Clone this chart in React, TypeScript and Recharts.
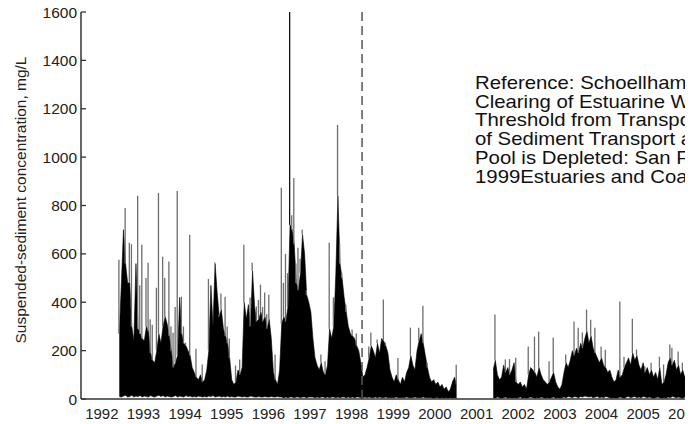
import React from 'react';
import { ComposedChart, Area, Bar, Cell, XAxis, YAxis, ReferenceLine } from 'recharts';

// ---- time grid (decimal years) ----
const STEP = 0.05;

// Segment A: late 1992 to early 2001
const segAStart = 1992.92;
const bodyHighA = [
  270, 480, 700, 560, 480, 480, 300, 240, 560, 290,
  270, 250, 240, 300, 280, 190, 160, 150, 200, 270,
  230, 300, 340, 310, 260, 200, 130, 150, 180, 420,
  270, 230, 220, 200, 180, 130, 110, 90, 80, 100,
  70, 80, 120, 200, 470, 300, 560, 440, 340, 370,
  290, 260, 230, 170, 80, 60, 70, 120, 100, 130,
  400, 330, 390, 300, 530, 380, 320, 330, 360, 320,
  340, 290, 330, 250, 110, 80, 60, 120, 310, 340,
  320, 380, 720, 700, 640, 480, 450, 520, 680, 600,
  430, 400, 360, 250, 170, 140, 120, 150, 110, 100,
  140, 290, 250, 300, 520, 840, 560, 500, 420, 360,
  300, 270, 260, 250, 220, 200, 150, 90, 100, 130,
  170, 220, 200, 170, 230, 190, 250, 240, 220, 190,
  120, 90, 70, 100, 80, 60, 90, 70, 110, 130,
  180, 140, 120, 200, 240, 270, 230, 180, 130, 90,
  70, 80, 60, 70, 50, 60, 40, 50, 30, 40,
  70, 90, 60,
];
const bodyLowA = [
  10, 8, 12, 15, 8, 10, 15, 8, 12, 10,
  14, 8, 12, 10, 8, 14, 10, 8, 12, 15,
  10, 14, 8, 12, 10, 8, 10, 14, 8, 12,
  10, 8, 14, 10, 12, 8, 10, 8, 12, 10,
  8, 10, 8, 12, 10, 14, 8, 10, 12, 8,
  10, 8, 12, 8, 10, 8, 8, 12, 10, 8,
  10, 8, 8, 12, 10, 8, 8, 10, 8, 8,
  10, 8, 8, 10, 8, 8, 10, 8, 8, 5,
  8, 5, 8, 8, 5, 8, 8, 5, 8, 8,
  5, 8, 8, 8, 5, 8, 5, 8, 8, 5,
  8, 5, 8, 8, 5, 8, 5, 8, 8, 5,
  8, 5, 8, 5, 8, 8, 5, 5, 8, 5,
  8, 5, 5, 8, 5, 8, 5, 5, 8, 5,
  5, 5, 5, 8, 5, 5, 5, 5, 8, 5,
  5, 5, 8, 5, 5, 5, 8, 5, 5, 5,
  5, 3, 5, 5, 3, 5, 3, 5, 3, 5,
  3, 5, 3,
];

// Segment B: late 2001 onward
const segBStart = 2001.9;
const bodyHighB = [
  120, 160, 100, 80, 90, 140, 110, 130, 100, 120,
  150, 70, 60, 70, 50, 60, 40, 100, 130, 120,
  110, 90, 130, 100, 80, 70, 60, 70, 90, 110,
  70, 50, 40, 60, 110, 150, 130, 160, 200, 180,
  210, 190, 230, 210, 250, 280, 230, 260, 210, 190,
  170, 150, 170, 140, 130, 110, 120, 90, 70, 80,
  120, 90, 100, 130, 150, 170, 140, 190, 160, 180,
  140, 120, 150, 110, 130, 100, 120, 90, 110, 80,
  130, 60, 70, 100, 150, 170, 140, 160, 120, 140,
  100, 120, 90, 110, 80, 100, 70, 90, 80, 100,
];
const bodyLowB = [
  5, 3, 8, 5, 3, 5, 8, 3, 5, 3,
  5, 3, 5, 8, 3, 5, 3, 5, 8, 5,
  3, 5, 3, 8, 5, 3, 5, 3, 5, 8,
  3, 5, 3, 5, 8, 5, 10, 8, 5, 10,
  8, 5, 10, 8, 12, 10, 8, 10, 5, 8,
  10, 5, 8, 5, 10, 8, 5, 3, 5, 3,
  5, 8, 5, 3, 8, 10, 5, 8, 10, 5,
  8, 5, 10, 8, 5, 8, 5, 3, 5, 8,
  5, 3, 5, 3, 8, 5, 10, 8, 5, 8,
  5, 3, 8, 5, 3, 5, 8, 5, 3, 5,
];

// Individual concentration spikes
const spikeYears = [
  1992.934, 1993.078, 1993.174, 1993.216, 1993.3, 1993.35, 1993.43, 1993.495, 1993.576, 1993.639,
  1993.68, 1993.721, 1993.817, 1993.88, 1993.976, 1994.041, 1994.113, 1994.18, 1994.233, 1994.28,
  1994.337, 1994.419, 1994.47, 1994.522, 1994.626, 1994.78, 1994.9, 1995.045, 1995.1, 1995.203,
  1995.25, 1995.3, 1995.389, 1995.461, 1995.51, 1995.557, 1995.742, 1995.839, 1995.925, 1996.007,
  1996.06, 1996.111, 1996.16, 1996.207, 1996.25, 1996.303, 1996.35, 1996.4, 1996.46, 1996.527,
  1996.688, 1996.826, 1996.87, 1996.905, 1996.96, 1997.025, 1997.07, 1997.122, 1997.17, 1997.242,
  1997.29, 1997.345, 1997.4, 1997.49, 1997.586, 1997.747, 1997.868, 1997.971, 1998.05, 1998.149,
  1998.21, 1998.27, 1998.31, 1998.349, 1998.45, 1998.517, 1998.614, 1998.91, 1998.992, 1999.112,
  1999.247, 1999.336, 1999.624, 1999.913, 2000.137, 2000.233, 2000.315, 2000.996, 2001.935, 2002.2,
  2002.32, 2002.448, 2002.761, 2002.881, 2003.001, 2003.242, 2003.348, 2003.644, 2003.829, 2003.964,
  2004.046, 2004.149, 2004.246, 2004.366, 2004.503, 2004.606, 2004.927, 2005.047, 2005.167, 2005.273,
  2005.353, 2005.528, 2005.69, 2005.889, 2006.01, 2006.13, 2006.212, 2006.332, 2006.453, 2006.611,
];
const spikeValues = [
  576, 790, 646, 640, 420, 840, 470, 638, 500, 563,
  330, 307, 460, 852, 588, 500, 568, 300, 274, 380,
  860, 423, 300, 232, 679, 208, 143, 496, 380, 564,
  440, 349, 436, 423, 300, 250, 138, 163, 638, 390,
  420, 563, 350, 382, 410, 473, 380, 440, 350, 431,
  184, 873, 480, 600, 520, 1600, 760, 914, 560, 625,
  580, 700, 450, 362, 232, 184, 156, 646, 420, 1133,
  640, 522, 380, 390, 270, 287, 271, 217, 275, 246,
  411, 233, 170, 295, 295, 386, 150, 142, 349, 163,
  165, 171, 217, 258, 279, 156, 254, 184, 320, 295,
  275, 370, 328, 295, 217, 204, 403, 175, 165, 332,
  204, 134, 150, 175, 143, 225, 212, 196, 150, 143,
];

const yTicks = [0, 200, 400, 600, 800, 1000, 1200, 1400, 1600];
const yearLabels = [1992, 1993, 1994, 1995, 1996, 1997, 1998, 1999, 2000, 2001, 2002, 2003, 2004, 2005, 2006];
const yearBoundaries = [1993, 1994, 1995, 1996, 1997, 1998, 1999, 2000, 2001, 2002, 2003, 2004, 2005, 2006];
const clearingYear = 1998.75;
const yAxisTitle = 'Suspended-sediment concentration, mg/L';
const annotationLines = [
  'Reference: Schoellhamer, D.H., 2011, Sudden',
  'Clearing of Estuarine Waters upon Crossing the',
  'Threshold from Transport to Supply Regulation',
  'of Sediment Transport as an Erodible Sediment',
  'Pool is Depleted: San Francisco Bay,',
  '1999Estuaries and Coasts',
];

// ---- build table ----
type Row = { year: number; low: number | null; high: number | null; spike: number | null };

function buildSegment(start: number, highs: number[], lows: number[]): Row[] {
  return highs.map((h, i) => ({ year: +(start + i * STEP).toFixed(3), low: lows[i], high: h, spike: null }));
}
const segA = buildSegment(segAStart, bodyHighA, bodyLowA);
const segB = buildSegment(segBStart, bodyHighB, bodyLowB);

spikeYears.forEach((yr, k) => {
  const inA = yr <= segAStart + (segA.length - 0.5) * STEP;
  const seg = inA ? segA : segB;
  const start = inA ? segAStart : segBStart;
  const idx = Math.max(0, Math.min(seg.length - 1, Math.round((yr - start) / STEP)));
  const cur = seg[idx].spike;
  seg[idx].spike = cur == null ? spikeValues[k] : Math.max(cur, spikeValues[k]);
});

const data = [
  ...segA,
  { year: 2001.46, low: null, high: null, spike: null },
  ...segB,
].map((r) => ({
  ...r,
  body: r.high == null ? null : [r.low, r.high],
  // the spike is drawn from the top of the dense body up to the spike value
  spikeRange:
    r.spike == null || r.high == null ? [0, 0] : [Math.min(r.high, r.spike), r.spike],
}));

const labelTicks = yearLabels.map((y) => y + 0.5);

const FONT = "'Liberation Sans', Arial, Helvetica, sans-serif";
const AXIS = '#333';

const YTick = (props: any) => {
  const { x, y, payload } = props;
  return (
    <g>
      <line x1={x + 4} x2={x + 9} y1={y} y2={y} stroke={AXIS} strokeWidth={1.3} />
      <text x={x} y={y} dy="0.36em" textAnchor="end" fontSize={15.5} fontFamily={FONT} fill="#222">
        {payload.value}
      </text>
    </g>
  );
};

const TopTick = (props: any) => {
  const { x, y } = props;
  return <line x1={x} x2={x} y1={y} y2={y + 5} stroke={AXIS} strokeWidth={1.5} />;
};

export default function App() {
  return (
    <div
      style={{
        position: 'relative',
        width: 693,
        height: 424,
        marginTop: -8,
        marginLeft: -8,
        overflow: 'hidden',
        background: '#fff',
      }}
    >
      <ComposedChart
        width={728}
        height={424}
        data={data}
        margin={{ top: 12, right: 22.4, bottom: 0, left: 0 }}
      >
        <XAxis
          xAxisId="bottom"
          dataKey="year"
          type="number"
          domain={[1992, 2007]}
          allowDataOverflow
          ticks={labelTicks}
          interval={0}
          tickFormatter={(v: number) => String(Math.floor(v))}
          tickLine={false}
          tickSize={0}
          tickMargin={9}
          height={25}
          axisLine={{ stroke: AXIS, strokeWidth: 1.5 }}
          tick={{ fontSize: 15, fontFamily: FONT, fill: '#222' }}
        />
        <XAxis
          xAxisId="top"
          orientation="top"
          dataKey="year"
          type="number"
          domain={[1992, 2007]}
          allowDataOverflow
          ticks={yearBoundaries}
          interval={0}
          height={0}
          tickSize={0}
          tickMargin={0}
          tick={<TopTick />}
          axisLine={{ stroke: AXIS, strokeWidth: 1.5 }}
        />
        <YAxis
          type="number"
          domain={[0, 1600]}
          allowDataOverflow
          ticks={yTicks}
          interval={0}
          width={81}
          tickSize={0}
          tickMargin={4}
          tick={<YTick />}
          axisLine={{ stroke: AXIS, strokeWidth: 1.5 }}
        />
        <Area
          xAxisId="bottom"
          dataKey="body"
          type="linear"
          stroke="#000"
          strokeWidth={0.6}
          fill="#000"
          fillOpacity={1}
          isAnimationActive={false}
          dot={false}
          activeDot={false}
        />
        <Bar xAxisId="bottom" dataKey="spikeRange" barSize={1.3} fill="#6e6e6e" isAnimationActive={false}>
          {data.map((r, i) => (
            <Cell key={i} fill={r.spike != null && r.spike >= 1500 ? '#111' : '#6e6e6e'} />
          ))}
        </Bar>
        <ReferenceLine
          xAxisId="bottom"
          x={clearingYear}
          stroke="#555"
          strokeWidth={1.5}
          strokeDasharray="9 5"
        />
      </ComposedChart>
      <svg
        width={693}
        height={424}
        style={{ position: 'absolute', left: 0, top: 0, pointerEvents: 'none' }}
      >
        <text
          transform="translate(21,200) rotate(-90)"
          textAnchor="middle"
          dy="0.35em"
          fontSize={15.5}
          fontFamily={FONT}
          fill="#222"
        >
          {yAxisTitle}
        </text>
        <g transform="translate(475,0) scale(1.15,1)">
          {annotationLines.map((line, i) => (
            <text key={i} x={0} y={89 + i * 18.75} fontSize={17.7} fontFamily={FONT} fill="#111">
              {line}
            </text>
          ))}
        </g>
      </svg>
    </div>
  );
}
